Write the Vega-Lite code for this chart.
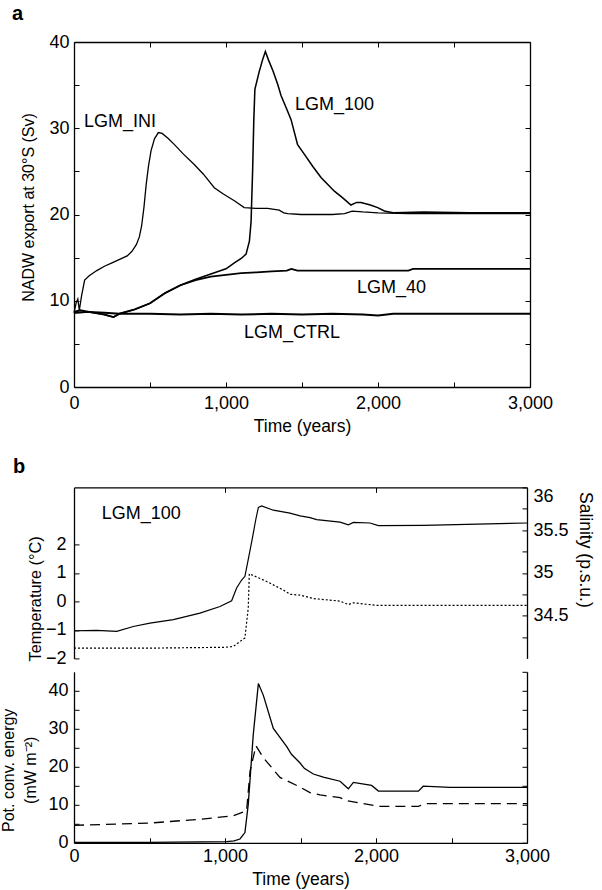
{
  "$schema": "https://vega.github.io/schema/vega-lite/v6.json",
  "background": "white",
  "padding": {"left": 0, "top": 4, "right": 4, "bottom": 2},
  "title": {"text": "a", "anchor": "start", "frame": "bounds", "fontSize": 20, "fontWeight": "bold", "font": "Liberation Sans", "color": "black", "offset": 9, "dx": 12},
  "spacing": 3.4,
  "config": {
    "view": {"stroke": null},
    "font": "Liberation Sans",
    "axis": {"domainColor": "black", "domainWidth": 1.3, "tickColor": "black", "tickWidth": 1, "tickSize": -5, "labelColor": "black", "labelFontSize": 18, "labelFont": "Liberation Sans", "titleFont": "Liberation Sans", "titleFontSize": 16, "titleFontWeight": "normal", "titleColor": "black", "grid": false, "labelOverlap": false, "labelFlush": false, "labelBound": false},
    "title": {"color": "black", "font": "Liberation Sans"}
  },
  "datasets": {
    "nadw": [
      {"run":"LGM_INI","year":0,"sv":8.6},{"run":"LGM_INI","year":15,"sv":9.8},{"run":"LGM_INI","year":25,"sv":10.2},{"run":"LGM_INI","year":35,"sv":8.9},{"run":"LGM_INI","year":50,"sv":10.6},{"run":"LGM_INI","year":70,"sv":12.4},{"run":"LGM_INI","year":100,"sv":12.9},{"run":"LGM_INI","year":150,"sv":13.5},{"run":"LGM_INI","year":200,"sv":14.0},{"run":"LGM_INI","year":250,"sv":14.4},{"run":"LGM_INI","year":300,"sv":14.8},{"run":"LGM_INI","year":350,"sv":15.2},{"run":"LGM_INI","year":380,"sv":15.7},{"run":"LGM_INI","year":410,"sv":16.5},{"run":"LGM_INI","year":430,"sv":17.4},{"run":"LGM_INI","year":445,"sv":18.7},{"run":"LGM_INI","year":460,"sv":20.8},{"run":"LGM_INI","year":475,"sv":23.5},{"run":"LGM_INI","year":490,"sv":25.6},{"run":"LGM_INI","year":507,"sv":27.4},{"run":"LGM_INI","year":530,"sv":28.8},{"run":"LGM_INI","year":555,"sv":29.5},{"run":"LGM_INI","year":580,"sv":29.4},{"run":"LGM_INI","year":620,"sv":28.8},{"run":"LGM_INI","year":661,"sv":28.1},{"run":"LGM_INI","year":720,"sv":27.0},{"run":"LGM_INI","year":791,"sv":25.8},{"run":"LGM_INI","year":850,"sv":24.7},{"run":"LGM_INI","year":923,"sv":23.1},{"run":"LGM_INI","year":980,"sv":22.4},{"run":"LGM_INI","year":1055,"sv":21.6},{"run":"LGM_INI","year":1120,"sv":20.8},{"run":"LGM_INI","year":1200,"sv":20.7},{"run":"LGM_INI","year":1274,"sv":20.7},{"run":"LGM_INI","year":1350,"sv":20.5},{"run":"LGM_INI","year":1380,"sv":20.2},{"run":"LGM_INI","year":1406,"sv":20.1},{"run":"LGM_INI","year":1493,"sv":20.0},{"run":"LGM_INI","year":1600,"sv":20.0},{"run":"LGM_INI","year":1700,"sv":20.0},{"run":"LGM_INI","year":1780,"sv":20.1},{"run":"LGM_INI","year":1830,"sv":20.4},{"run":"LGM_INI","year":1900,"sv":20.3},{"run":"LGM_INI","year":2000,"sv":20.2},{"run":"LGM_INI","year":2200,"sv":20.1},{"run":"LGM_INI","year":2500,"sv":20.1},{"run":"LGM_INI","year":2800,"sv":20.1},{"run":"LGM_INI","year":3000,"sv":20.1},
      {"run":"LGM_100","year":0,"sv":8.6},{"run":"LGM_100","year":100,"sv":8.7},{"run":"LGM_100","year":200,"sv":8.4},{"run":"LGM_100","year":260,"sv":8.1},{"run":"LGM_100","year":300,"sv":8.5},{"run":"LGM_100","year":400,"sv":9.0},{"run":"LGM_100","year":500,"sv":9.7},{"run":"LGM_100","year":600,"sv":10.9},{"run":"LGM_100","year":700,"sv":11.8},{"run":"LGM_100","year":800,"sv":12.5},{"run":"LGM_100","year":900,"sv":13.1},{"run":"LGM_100","year":1000,"sv":13.7},{"run":"LGM_100","year":1055,"sv":14.4},{"run":"LGM_100","year":1100,"sv":14.9},{"run":"LGM_100","year":1132,"sv":15.4},{"run":"LGM_100","year":1154,"sv":16.9},{"run":"LGM_100","year":1165,"sv":19.2},{"run":"LGM_100","year":1175,"sv":25.0},{"run":"LGM_100","year":1183,"sv":31.0},{"run":"LGM_100","year":1190,"sv":34.5},{"run":"LGM_100","year":1219,"sv":36.6},{"run":"LGM_100","year":1240,"sv":37.9},{"run":"LGM_100","year":1259,"sv":38.9},{"run":"LGM_100","year":1280,"sv":37.9},{"run":"LGM_100","year":1310,"sv":36.6},{"run":"LGM_100","year":1340,"sv":35.1},{"run":"LGM_100","year":1362,"sv":33.8},{"run":"LGM_100","year":1400,"sv":32.2},{"run":"LGM_100","year":1428,"sv":31.0},{"run":"LGM_100","year":1471,"sv":28.1},{"run":"LGM_100","year":1515,"sv":27.0},{"run":"LGM_100","year":1570,"sv":25.6},{"run":"LGM_100","year":1625,"sv":24.3},{"run":"LGM_100","year":1713,"sv":22.7},{"run":"LGM_100","year":1770,"sv":21.9},{"run":"LGM_100","year":1822,"sv":21.1},{"run":"LGM_100","year":1860,"sv":21.4},{"run":"LGM_100","year":1888,"sv":21.4},{"run":"LGM_100","year":1950,"sv":21.1},{"run":"LGM_100","year":1998,"sv":20.8},{"run":"LGM_100","year":2042,"sv":20.4},{"run":"LGM_100","year":2100,"sv":20.2},{"run":"LGM_100","year":2300,"sv":20.3},{"run":"LGM_100","year":2600,"sv":20.2},{"run":"LGM_100","year":3000,"sv":20.2},
      {"run":"LGM_40","year":0,"sv":8.6},{"run":"LGM_40","year":100,"sv":8.7},{"run":"LGM_40","year":200,"sv":8.4},{"run":"LGM_40","year":260,"sv":8.1},{"run":"LGM_40","year":300,"sv":8.5},{"run":"LGM_40","year":400,"sv":9.0},{"run":"LGM_40","year":500,"sv":9.7},{"run":"LGM_40","year":600,"sv":10.9},{"run":"LGM_40","year":700,"sv":11.8},{"run":"LGM_40","year":800,"sv":12.4},{"run":"LGM_40","year":900,"sv":12.8},{"run":"LGM_40","year":1000,"sv":13.0},{"run":"LGM_40","year":1100,"sv":13.2},{"run":"LGM_40","year":1200,"sv":13.3},{"run":"LGM_40","year":1300,"sv":13.4},{"run":"LGM_40","year":1400,"sv":13.5},{"run":"LGM_40","year":1430,"sv":13.7},{"run":"LGM_40","year":1470,"sv":13.5},{"run":"LGM_40","year":1600,"sv":13.5},{"run":"LGM_40","year":1800,"sv":13.5},{"run":"LGM_40","year":2000,"sv":13.5},{"run":"LGM_40","year":2200,"sv":13.5},{"run":"LGM_40","year":2230,"sv":13.7},{"run":"LGM_40","year":2500,"sv":13.7},{"run":"LGM_40","year":3000,"sv":13.7},
      {"run":"LGM_CTRL","year":0,"sv":8.7},{"run":"LGM_CTRL","year":40,"sv":8.9},{"run":"LGM_CTRL","year":100,"sv":8.7},{"run":"LGM_CTRL","year":200,"sv":8.6},{"run":"LGM_CTRL","year":300,"sv":8.5},{"run":"LGM_CTRL","year":500,"sv":8.5},{"run":"LGM_CTRL","year":700,"sv":8.4},{"run":"LGM_CTRL","year":900,"sv":8.5},{"run":"LGM_CTRL","year":1100,"sv":8.4},{"run":"LGM_CTRL","year":1300,"sv":8.5},{"run":"LGM_CTRL","year":1500,"sv":8.4},{"run":"LGM_CTRL","year":1700,"sv":8.5},{"run":"LGM_CTRL","year":1900,"sv":8.4},{"run":"LGM_CTRL","year":2000,"sv":8.3},{"run":"LGM_CTRL","year":2100,"sv":8.5},{"run":"LGM_CTRL","year":2400,"sv":8.5},{"run":"LGM_CTRL","year":2700,"sv":8.5},{"run":"LGM_CTRL","year":3000,"sv":8.5}
    ],
    "labelsA": [
      {"label":"LGM_INI","year":66,"sv":30.7},
      {"label":"LGM_100","year":1454,"sv":32.75},
      {"label":"LGM_40","year":1862,"sv":11.5},
      {"label":"LGM_CTRL","year":1118,"sv":6.3}
    ],
    "temp": [
      {"year":0,"t":-1.03},{"year":150,"t":-1.02},{"year":283,"t":-1.05},{"year":393,"t":-0.88},{"year":503,"t":-0.76},{"year":658,"t":-0.64},{"year":834,"t":-0.41},{"year":967,"t":-0.18},{"year":1044,"t":0.02},{"year":1077,"t":0.47},{"year":1110,"t":0.75},{"year":1132,"t":0.88},{"year":1155,"t":1.5},{"year":1177,"t":2.1},{"year":1205,"t":2.9},{"year":1221,"t":3.3},{"year":1243,"t":3.35},{"year":1320,"t":3.2},{"year":1430,"t":3.1},{"year":1497,"t":3.0},{"year":1563,"t":2.94},{"year":1607,"t":2.87},{"year":1762,"t":2.78},{"year":1817,"t":2.69},{"year":1850,"t":2.77},{"year":1960,"t":2.75},{"year":2016,"t":2.66},{"year":2313,"t":2.67},{"year":3000,"t":2.75}
    ],
    "sal": [
      {"year":0,"s":34.12},{"year":500,"s":34.12},{"year":1000,"s":34.13},{"year":1055,"s":34.14},{"year":1132,"s":34.24},{"year":1154,"s":34.59},{"year":1161,"s":34.99},{"year":1276,"s":34.9},{"year":1386,"s":34.8},{"year":1430,"s":34.75},{"year":1497,"s":34.74},{"year":1585,"s":34.7},{"year":1762,"s":34.67},{"year":1817,"s":34.63},{"year":1850,"s":34.65},{"year":2005,"s":34.62},{"year":3000,"s":34.62}
    ],
    "labelsB": [
      {"label":"LGM_100","year":183,"t":3.05}
    ],
    "pce": [
      {"series":"PCE_1","year":0,"e":0.1},{"series":"PCE_1","year":500,"e":0.1},{"series":"PCE_1","year":1011,"e":0.3},{"series":"PCE_1","year":1060,"e":0.5},{"series":"PCE_1","year":1099,"e":1.0},{"series":"PCE_1","year":1132,"e":2.7},{"series":"PCE_1","year":1154,"e":10.1},{"series":"PCE_1","year":1187,"e":28.4},{"series":"PCE_1","year":1221,"e":41.9},{"series":"PCE_1","year":1254,"e":38.8},{"series":"PCE_1","year":1320,"e":30.1},{"series":"PCE_1","year":1409,"e":25.3},{"series":"PCE_1","year":1440,"e":23.3},{"series":"PCE_1","year":1497,"e":21.0},{"series":"PCE_1","year":1525,"e":19.6},{"series":"PCE_1","year":1585,"e":18.1},{"series":"PCE_1","year":1651,"e":17.3},{"series":"PCE_1","year":1762,"e":16.2},{"series":"PCE_1","year":1817,"e":14.2},{"series":"PCE_1","year":1850,"e":15.9},{"series":"PCE_1","year":1971,"e":15.1},{"series":"PCE_1","year":2016,"e":13.6},{"series":"PCE_1","year":2281,"e":13.6},{"series":"PCE_1","year":2313,"e":14.9},{"series":"PCE_1","year":2490,"e":14.6},{"series":"PCE_1","year":3000,"e":14.6},
      {"series":"PCE_2","year":0,"e":4.6},{"series":"PCE_2","year":503,"e":5.2},{"series":"PCE_2","year":834,"e":6.2},{"series":"PCE_2","year":1055,"e":7.1},{"series":"PCE_2","year":1143,"e":8.4},{"series":"PCE_2","year":1166,"e":18.9},{"series":"PCE_2","year":1205,"e":25.5},{"series":"PCE_2","year":1254,"e":22.4},{"series":"PCE_2","year":1364,"e":17.2},{"series":"PCE_2","year":1480,"e":15.0},{"series":"PCE_2","year":1563,"e":13.2},{"series":"PCE_2","year":1629,"e":12.6},{"series":"PCE_2","year":1762,"e":11.9},{"series":"PCE_2","year":1806,"e":11.1},{"series":"PCE_2","year":1916,"e":10.3},{"series":"PCE_2","year":2016,"e":9.6},{"series":"PCE_2","year":2281,"e":9.6},{"series":"PCE_2","year":2325,"e":10.3},{"series":"PCE_2","year":3000,"e":10.3}
    ]
  },
  "vconcat": [
    {
      "width": 456,
      "height": 345,
      "title": {"text": "b", "orient": "bottom", "anchor": "start", "frame": "group", "fontSize": 20, "fontWeight": "bold", "dx": -61, "offset": 22.7},
      "layer": [
        {
          "data": {"name": "nadw"},
          "mark": {"type": "line", "color": "black"},
          "encoding": {
            "x": {"field": "year", "type": "quantitative", "scale": {"domain": [0, 3000], "nice": false},
              "axis": {"orient": "bottom", "values": [0, 500, 1000, 1500, 2000, 2500, 3000], "format": ",d", "labelExpr": "datum.value % 1000 === 0 ? datum.label : ''", "labelPadding": 12.7, "title": "Time (years)", "titleFontSize": 17.5, "titleY": 30}},
            "y": {"field": "sv", "type": "quantitative", "scale": {"domain": [0, 40], "nice": false},
              "axis": {"orient": "left", "values": [0, 5, 10, 15, 20, 25, 30, 35, 40], "labelExpr": "datum.value % 10 === 0 ? datum.label : ''", "labelPadding": 10, "title": "NADW export at 30°S (Sv)", "titleX": -37.5, "titleY": 165}},
            "detail": {"field": "run", "type": "nominal"},
            "strokeWidth": {"field": "run", "type": "nominal", "scale": {"domain": ["LGM_INI", "LGM_100", "LGM_40", "LGM_CTRL"], "range": [1.3, 2, 2.2, 2.2]}, "legend": null}
          }
        },
        {
          "data": {"name": "labelsA"},
          "mark": {"type": "text", "align": "left", "baseline": "middle", "fontSize": 18, "color": "black", "font": "Liberation Sans"},
          "encoding": {
            "x": {"field": "year", "type": "quantitative", "scale": {"domain": [0, 3000], "nice": false},
              "axis": {"orient": "top", "values": [0, 500, 1000, 1500, 2000, 2500, 3000], "labels": false, "title": null}},
            "y": {"field": "sv", "type": "quantitative", "scale": {"domain": [0, 40], "nice": false},
              "axis": {"orient": "right", "values": [0, 5, 10, 15, 20, 25, 30, 35, 40], "labels": false, "title": null}},
            "text": {"field": "label", "type": "nominal"}
          }
        }
      ],
      "resolve": {"axis": {"x": "independent", "y": "independent"}}
    },
    {
      "width": 453,
      "height": 171,
      "layer": [
        {
          "data": {"name": "temp"},
          "mark": {"type": "line", "color": "black", "strokeWidth": 1.2},
          "encoding": {
            "x": {"field": "year", "type": "quantitative", "scale": {"domain": [0, 3000], "nice": false},
              "axis": {"orient": "top", "values": [1000, 2000], "labelExpr": "''", "labelFontSize": 6.5, "labelPadding": 5, "title": null}},
            "y": {"field": "t", "type": "quantitative", "scale": {"domain": [-2, 4], "nice": false, "zero": false},
              "axis": {"orient": "left", "values": [-2, -1, 0, 1, 2], "format": "d", "labelPadding": 13, "title": "Temperature (°C)", "titleFontSize": 16.3, "titleX": -30.5, "titleY": 111}}
          }
        },
        {
          "data": {"name": "sal"},
          "mark": {"type": "line", "color": "black", "strokeWidth": 1.2, "strokeDash": [2, 2]},
          "encoding": {
            "x": {"field": "year", "type": "quantitative", "scale": {"domain": [0, 3000], "nice": false}, "axis": null},
            "y": {"field": "s", "type": "quantitative", "scale": {"domain": [34, 36], "nice": false, "zero": false},
              "axis": {"orient": "right", "values": [34.25, 34.5, 34.75, 35, 35.25, 35.5, 35.75, 36], "format": "~g", "labelExpr": "(datum.value == 34.5 || datum.value == 35 || datum.value == 35.5 || datum.value == 36) ? datum.label : ''", "labelPadding": 11, "labelFlush": true, "title": "Salinity (p.s.u.)", "titleFontSize": 17.5, "titleX": 48, "titleY": 62}}
          }
        },
        {
          "data": {"name": "labelsB"},
          "mark": {"type": "text", "align": "left", "baseline": "middle", "fontSize": 18, "color": "black", "font": "Liberation Sans"},
          "encoding": {
            "x": {"field": "year", "type": "quantitative", "scale": {"domain": [0, 3000], "nice": false}, "axis": null},
            "y": {"field": "t", "type": "quantitative", "scale": {"domain": [-2, 4], "nice": false, "zero": false}, "axis": null},
            "text": {"field": "label", "type": "nominal"}
          }
        }
      ],
      "resolve": {"scale": {"y": "independent"}, "axis": {"x": "independent"}}
    },
    {
      "width": 453,
      "height": 171,
      "layer": [
        {
          "data": {"name": "pce"},
          "transform": [{"filter": "datum.series === 'PCE_1'"}],
          "mark": {"type": "line", "color": "black", "strokeWidth": 1.3},
          "encoding": {
            "x": {"field": "year", "type": "quantitative", "scale": {"domain": [0, 3000], "nice": false},
              "axis": {"orient": "bottom", "values": [0, 500, 1000, 1500, 2000, 2500, 3000], "format": ",d", "labelExpr": "datum.value % 1000 === 0 ? datum.label : ''", "labelPadding": 9.7, "title": "Time (years)", "titleFontSize": 17.5, "titleY": 28}},
            "y": {"field": "e", "type": "quantitative", "scale": {"domain": [0, 45], "nice": false},
              "axis": {"orient": "left", "values": [0, 5, 10, 15, 20, 25, 30, 35, 40], "labelExpr": "datum.value % 10 === 0 ? datum.label : ''", "labelPadding": 11, "title": "(mW m⁻²)", "titleX": -36, "titleY": 98}}
          }
        },
        {
          "data": {"name": "pce"},
          "transform": [{"filter": "datum.series === 'PCE_2'"}],
          "mark": {"type": "line", "color": "black", "strokeWidth": 1.3, "strokeDash": [10, 6]},
          "encoding": {
            "x": {"field": "year", "type": "quantitative", "scale": {"domain": [0, 3000], "nice": false}, "axis": null},
            "y": {"field": "e", "type": "quantitative", "scale": {"domain": [0, 45], "nice": false},
              "axis": {"orient": "right", "values": [0, 5, 10, 15, 20, 25, 30, 35, 40, 45], "labels": false, "title": "Pot. conv. energy", "titleAngle": -90, "titleBaseline": "bottom", "titleAlign": "center", "titleX": -511, "titleY": 98}}
          }
        }
      ],
      "resolve": {"axis": {"x": "independent", "y": "independent"}}
    }
  ]
}
